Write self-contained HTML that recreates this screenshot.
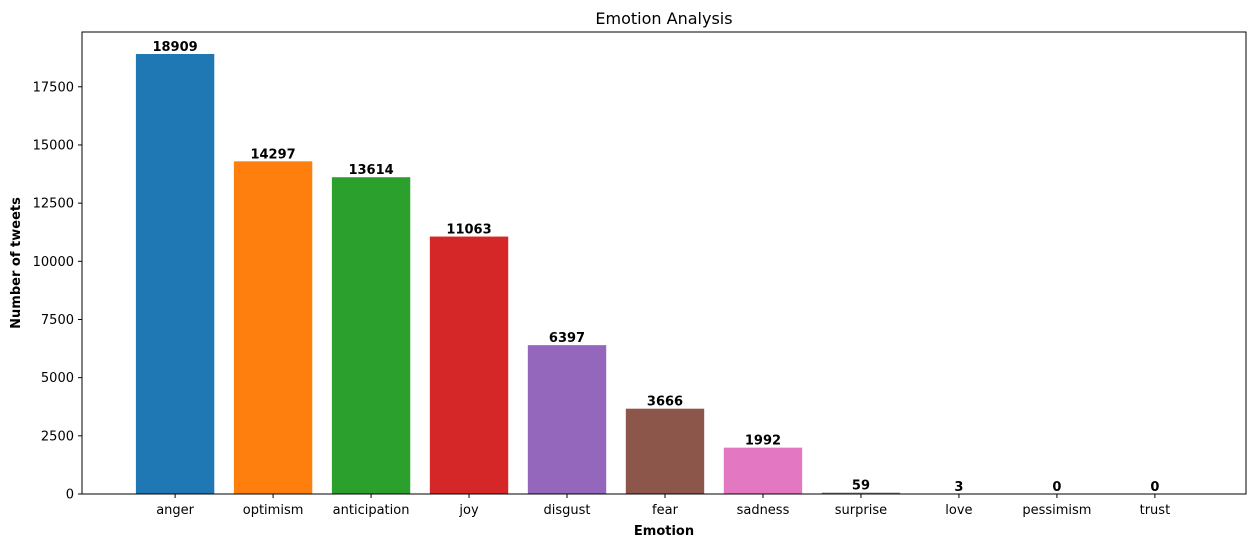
<!DOCTYPE html>
<html><head><meta charset="utf-8"><style>
body{margin:0;background:#fff;}
svg{display:block;font-family:"DejaVu Sans","Liberation Sans",sans-serif;}
</style></head><body>
<svg id="chart" width="1255" height="547">
<text x="664" y="24" text-anchor="middle" font-size="16">Emotion Analysis</text>
<g id="bars"></g><g id="axes"></g>
<rect x="82" y="32" width="1164" height="462" fill="none" stroke="#000" stroke-width="1"/>
<text x="664" y="535" text-anchor="middle" font-size="13" font-weight="bold">Emotion</text>
<text transform="translate(20,263) rotate(-90)" text-anchor="middle" font-size="13" font-weight="bold">Number of tweets</text>
</svg>
<script>
const categories=["anger","optimism","anticipation","joy","disgust","fear","sadness","surprise","love","pessimism","trust"];
const values=[18909,14297,13614,11063,6397,3666,1992,59,3,0,0];
const colors=["#1f77b4","#ff7f0e","#2ca02c","#d62728","#9467bd","#8c564b","#e377c2","#7f7f7f","#bcbd22","#17becf","#1f77b4"];
const yTicks=[0,2500,5000,7500,10000,12500,15000,17500];
const L=82,R=1246,T=32,B=494;
const xMin=-0.94,xMax=categories.length-1+0.94;
const yMax=18909*1.05;
const xs=i=>L+1+(i-xMin)/(xMax-xMin)*(R-L);
const ys=v=>B-v/yMax*(B-T);
const NS="http://www.w3.org/2000/svg";
const bars=document.getElementById('bars'),axes=document.getElementById('axes');
function mk(tag,attrs,parent){const e=document.createElementNS(NS,tag);for(const k in attrs)e.setAttribute(k,attrs[k]);parent.appendChild(e);return e;}
const bw=0.8*(R-L)/(xMax-xMin);
categories.forEach((c,i)=>{
  const x=xs(i),y=ys(values[i]);
  const r=mk('rect',{x:x-bw/2,y:y,width:bw,height:B-y,fill:colors[i]},bars);
  
  
  const t=mk('text',{x:x,y:y-3,'text-anchor':'middle','font-size':13,'font-weight':'bold'},bars);
  t.textContent=values[i];
  
  
  mk('line',{x1:x,x2:x,y1:B,y2:B+4,stroke:'#000'},axes);
  const l=mk('text',{x:x,y:B+20,'text-anchor':'middle','font-size':13},axes);
  l.textContent=c;
  
  
});
yTicks.forEach(v=>{
  const y=ys(v);
  mk('line',{x1:L-4,x2:L,y1:y,y2:y,stroke:'#000'},axes);
  const l=mk('text',{x:L-8,y:y+4.5,'text-anchor':'end','font-size':13},axes);
  l.textContent=v;
  
  
});
</script>
</body></html>
